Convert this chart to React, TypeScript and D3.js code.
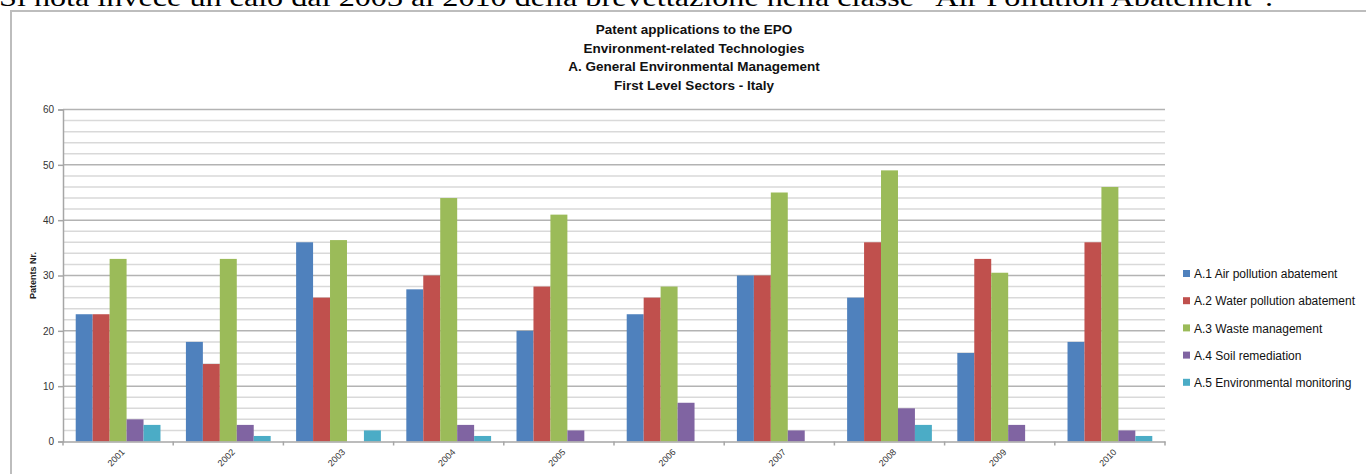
import { useEffect, useRef } from "react";
import * as d3 from "d3";

const years = ["2001", "2002", "2003", "2004", "2005", "2006", "2007", "2008", "2009", "2010"];
const airPollution = [23, 18, 36, 27.5, 20, 23, 30, 26, 16, 18];
const waterPollution = [23, 14, 26, 30, 28, 26, 30, 36, 33, 36];
const wasteManagement = [33, 33, 36.4, 44, 41, 28, 45, 49, 30.5, 46];
const soilRemediation = [4, 3, 0, 3, 2, 7, 2, 6, 3, 2];
const envMonitoring = [3, 1, 2, 1, 0, 0, 0, 3, 0, 1];

const seriesNames = [
  "A.1 Air pollution abatement",
  "A.2 Water pollution abatement",
  "A.3 Waste management",
  "A.4 Soil remediation",
  "A.5 Environmental monitoring",
];
const seriesColors = ["#4F81BD", "#C0504D", "#9BBB59", "#8064A2", "#4BACC6"];
const seriesValues = [airPollution, waterPollution, wasteManagement, soilRemediation, envMonitoring];

const titleLines = [
  "Patent applications to the EPO",
  "Environment-related Technologies",
  "A. General Environmental Management",
  "First Level Sectors - Italy",
];

const W = 1366;
const H = 474;

export default function App() {
  const svgRef = useRef<SVGSVGElement>(null);

  useEffect(() => {
    if (!svgRef.current) return;
    const svg = d3.select(svgRef.current);
    svg.selectAll("*").remove();

    const font = "'Liberation Sans', Arial, sans-serif";

    // sentence of the surrounding page, cut by the screenshot's top edge
    svg
      .append("text")
      .attr("x", -1)
      .attr("y", 6)
      .attr("font-family", "'Liberation Serif', 'Times New Roman', serif")
      .attr("font-size", 26)
      .attr("fill", "#000")
      .attr("textLength", 1274)
      .attr("lengthAdjust", "spacingAndGlyphs")
      .text("Si nota invece un calo dal 2003 al 2010 della brevettazione nella classe \"Air Pollution Abatement\".");

    // chart frame
    svg
      .append("rect")
      .attr("x", 11)
      .attr("y", 11)
      .attr("width", W + 20)
      .attr("height", H + 20)
      .attr("fill", "#fff")
      .attr("stroke", "#bdbdbd")
      .attr("stroke-width", 2);

    const left = 63;
    const right = 1165;
    const top = 109.5;
    const bottom = 441.5;

    const y = d3.scaleLinear().domain([0, 60]).range([bottom, top]);
    const x0 = d3.scaleBand<string>().domain(years).range([left, right]).padding(0);
    const x1 = d3
      .scaleBand<number>()
      .domain(d3.range(seriesNames.length))
      .range([0, x0.bandwidth()])
      .paddingInner(0)
      .paddingOuter(0.75);

    // grid
    const minorTicks = d3.range(2, 60, 2).filter((v) => v % 10 !== 0);
    svg
      .append("g")
      .selectAll("line")
      .data(minorTicks)
      .join("line")
      .attr("x1", left)
      .attr("x2", right)
      .attr("y1", (d) => y(d))
      .attr("y2", (d) => y(d))
      .attr("stroke", "#d9d9d9")
      .attr("stroke-width", 1.5);

    svg
      .append("g")
      .selectAll("line")
      .data(d3.range(10, 61, 10))
      .join("line")
      .attr("x1", left)
      .attr("x2", right)
      .attr("y1", (d) => y(d))
      .attr("y2", (d) => y(d))
      .attr("stroke", "#b3b3b3")
      .attr("stroke-width", 1.5);

    // bars
    years.forEach((yr, i) => {
      seriesValues.forEach((vals, s) => {
        const v = vals[i];
        if (!v) return;
        svg
          .append("rect")
          .attr("x", (x0(yr) ?? 0) + (x1(s) ?? 0))
          .attr("y", y(v))
          .attr("width", x1.bandwidth())
          .attr("height", y(0) - y(v))
          .attr("fill", seriesColors[s]);
      });
    });

    // y axis
    const yAxis = svg
      .append("g")
      .attr("transform", `translate(${left},0)`)
      .call(d3.axisLeft(y).tickValues(d3.range(0, 61, 10)).tickSize(5).tickPadding(4));
    yAxis.select(".domain").attr("stroke", "#a6a6a6").attr("stroke-width", 1.5);
    yAxis.selectAll(".tick line").attr("stroke", "#a6a6a6").attr("stroke-width", 1.5);
    yAxis
      .selectAll(".tick text")
      .attr("fill", "#333")
      .attr("font-size", 10)
      .attr("font-family", font);

    // x axis
    const xAxis = svg
      .append("g")
      .attr("transform", `translate(0,${bottom})`)
      .call(
        d3
          .axisBottom(x0)
          .tickSize(0)
          .tickFormat(() => "")
      );
    xAxis.select(".domain").attr("stroke", "#a6a6a6").attr("stroke-width", 1.5);
    svg
      .append("g")
      .selectAll("line")
      .data(d3.range(years.length + 1))
      .join("line")
      .attr("x1", (d) => left + d * x0.step())
      .attr("x2", (d) => left + d * x0.step())
      .attr("y1", bottom)
      .attr("y2", bottom + 4)
      .attr("stroke", "#a6a6a6")
      .attr("stroke-width", 1.5);

    svg
      .append("g")
      .selectAll("text")
      .data(years)
      .join("text")
      .attr("transform", (d) => {
        const cx = (x0(d) ?? 0) + x0.bandwidth() / 2 + 5;
        return `translate(${cx},${bottom + 9}) rotate(-45)`;
      })
      .attr("text-anchor", "end")
      .attr("dy", "0.35em")
      .attr("font-size", 9)
      .attr("font-family", font)
      .attr("fill", "#333")
      .text((d) => d);

    // y axis title
    svg
      .append("text")
      .attr("transform", `translate(36,${(top + bottom) / 2}) rotate(-90)`)
      .attr("text-anchor", "middle")
      .attr("font-size", 9)
      .attr("font-weight", "bold")
      .attr("font-family", font)
      .attr("fill", "#222")
      .text("Patents Nr.");

    // title
    svg
      .append("g")
      .selectAll("text")
      .data(titleLines)
      .join("text")
      .attr("x", 694)
      .attr("y", (_, i) => 34 + i * 18.7)
      .attr("text-anchor", "middle")
      .attr("font-size", 13.5)
      .attr("font-weight", "bold")
      .attr("font-family", font)
      .attr("fill", "#111")
      .text((d) => d);

    // legend
    const legend = svg
      .append("g")
      .selectAll("g")
      .data(seriesNames)
      .join("g")
      .attr("transform", (_, i) => `translate(1183,${274 + i * 27.2})`);
    legend
      .append("rect")
      .attr("x", 0)
      .attr("y", -4)
      .attr("width", 7)
      .attr("height", 7)
      .attr("fill", (_, i) => seriesColors[i]);
    legend
      .append("text")
      .attr("x", 11)
      .attr("y", 0)
      .attr("dy", "0.35em")
      .attr("font-size", 12)
      .attr("font-family", font)
      .attr("fill", "#111")
      .text((d) => d);
  }, []);

  return (
    <div style={{ position: "absolute", left: 0, top: 0 }}>
      <svg ref={svgRef} width={W} height={H} style={{ display: "block" }} />
    </div>
  );
}
